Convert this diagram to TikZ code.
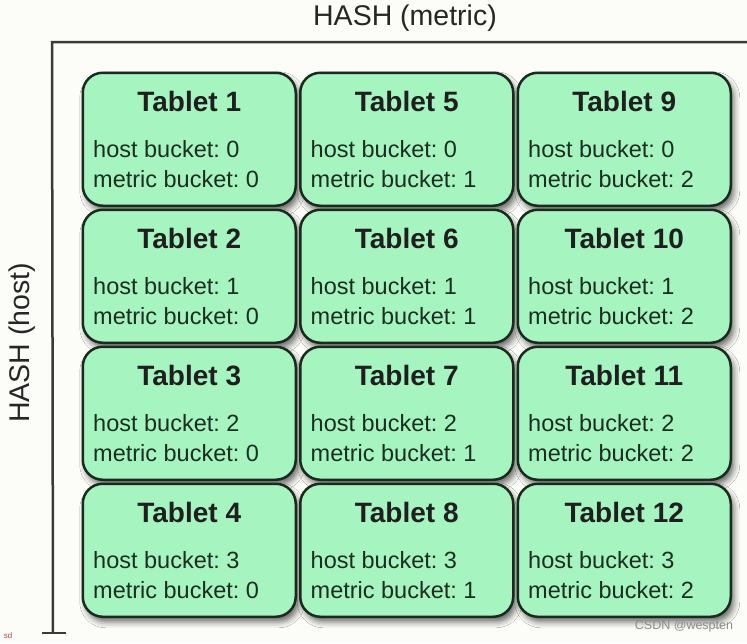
\documentclass[tikz,border=0pt]{standalone}
\usepackage{fontspec}
\setmainfont{Liberation Sans}
\usetikzlibrary{shadows.blur}
\definecolor{bg}{HTML}{FCFCF8}
\definecolor{tabfill}{HTML}{A6F4C0}
\definecolor{tabline}{HTML}{1A2A1E}
\definecolor{tabtext}{HTML}{1C2E21}
\definecolor{axiscol}{HTML}{3A3A3A}
\tikzset{
  tablet/.style={draw=tabline, line width=2.5pt, fill=tabfill, rounded corners=20pt,
    minimum width=213pt, minimum height=133pt, anchor=north west, inner sep=0pt,
    blur shadow={shadow xshift=3pt, shadow yshift=-5pt, shadow blur radius=6pt, shadow opacity=60}},
  tabtitle/.style={anchor=base, inner sep=0pt, text=black!88, font=\fontsize{28}{32}\selectfont\bfseries},
  tabbody/.style={anchor=base west, inner sep=0pt, text=tabtext, font=\fontsize{23.5}{28}\selectfont},
  axisline/.style={draw=axiscol, line width=2.5pt},
  axistitle/.style={inner sep=0pt, text=black!85, font=\fontsize{28.5}{32}\selectfont},
}
\frenchspacing
\begin{document}
\begin{tikzpicture}[x=1pt,y=-1pt]
\fill[bg] (0,0) rectangle (747,643);
\useasboundingbox (0,0) rectangle (747,643);
% axes
\coordinate (axr) at (747,42);
\coordinate (axo) at (52,42);
\coordinate (axb) at (53,633);
\coordinate (tickl) at (42,633);
\coordinate (tickr) at (66,633);
\draw[axisline] (axr) -- (axo) -- (axb);
\draw[axisline] (tickl) -- (tickr);
\node[axistitle] (hashm) at (405,18) {HASH (metric)};
\node[axistitle, rotate=90] (hashh) at (22,343) {HASH (host)};
% tablets
\foreach \r in {0,1,2,3} {
  \foreach \c in {0,1,2} {
    \pgfmathtruncatemacro\n{\c*4+\r+1}
    \pgfmathsetmacro\xx{81.5+\c*217.5}
    \pgfmathsetmacro\yy{71.5+\r*137}
    \node[tablet] (t\n) at (\xx,\yy) {};
  }
}
\foreach \r in {0,1,2,3} {
  \foreach \c in {0,1,2} {
    \pgfmathtruncatemacro\n{\c*4+\r+1}
    \node[tabtitle] (h\n) at ([yshift=-39.5pt]t\n.north) {Tablet \n};
    \node[tabbody] (hb\n) at ([xshift=11.5pt,yshift=-86pt]t\n.north west) {host bucket: \r};
    \node[tabbody] (mb\n) at ([xshift=11.5pt,yshift=-116pt]t\n.north west) {metric bucket: \c};
  }
}
% watermarks
\node[inner sep=0pt, text=black!45, font=\fontsize{12.5}{14}\selectfont] (wm) at (684,626) {CSDN @wespten};
\node[inner sep=0pt, text=red!40!gray, font=\fontsize{8}{9}\selectfont] (sd) at (8,636) {sd};
\end{tikzpicture}
\end{document}
